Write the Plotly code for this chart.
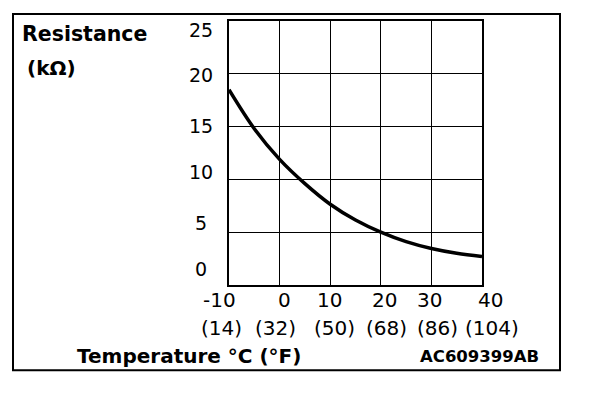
import plotly.graph_objects as go

# ---- data ----
temps_c = [-10, -5, 0, 5, 10, 15, 20, 25, 30, 35, 40]
resistance_kohm = [18.5, 14.8, 11.9, 9.6, 7.65, 6.15, 5.0, 4.1, 3.45, 3.0, 2.7]

x_tickvals = [-10, 0, 10, 20, 30, 40]
x_ticktext_c = ["-10", "0", "10", "20", "30", "40"]
x_ticktext_f = ["(14)", "(32)", "(50)", "(68)", "(86)", "(104)"]
y_tickvals = [0, 5, 10, 15, 20, 25]
y_ticktext = ["0", "5", "10", "15", "20", "25"]

# ---- layout geometry (screen pixels; page body adds an 8px offset) ----
W, H = 608, 398
OFF = 8
SL, SR, ST, SB = 229, 482, 19, 285          # plot area on screen
L, R, T, B = SL - OFF, SR - OFF, ST - OFF, SB - OFF


def px(xs):
    return (xs - SL) / (SR - SL)


def py(ys):
    return (SB - ys) / (SB - ST)


FONT = "DejaVu Sans, Arial, sans-serif"

fig = go.Figure()
fig.add_trace(go.Scatter(
    x=temps_c, y=resistance_kohm, mode="lines",
    line=dict(color="black", width=3.5, shape="spline", smoothing=1.0),
    hoverinfo="skip", showlegend=False,
))

fig.update_layout(
    width=W, height=H,
    margin=dict(l=L, r=W - R, t=T, b=H - B, pad=0),
    paper_bgcolor="white", plot_bgcolor="white",
    showlegend=False,
    xaxis=dict(range=[-10, 40], tickvals=x_tickvals, showticklabels=False,
               showgrid=True, gridcolor="black", gridwidth=1,
               showline=True, linecolor="black", linewidth=2, mirror=True,
               zeroline=False, ticks="", fixedrange=True),
    yaxis=dict(range=[0, 25], tickvals=y_tickvals, showticklabels=False,
               showgrid=True, gridcolor="black", gridwidth=1,
               showline=True, linecolor="black", linewidth=2, mirror=True,
               zeroline=False, ticks="", fixedrange=True),
)

annotations = []
# x tick labels (two rows)
c_shift = [-10, 5, -1, 4, -2, 8]
f_shift = [-8, -4, 4, 6, 6, 10]
for v, tc, tf, sc, sf in zip(x_tickvals, x_ticktext_c, x_ticktext_f, c_shift, f_shift):
    annotations.append(dict(x=v, xref="x", y=py(300), yref="paper", text=tc,
                            showarrow=False, xanchor="center", yanchor="middle",
                            xshift=sc, font=dict(family=FONT, size=20, color="black")))
    annotations.append(dict(x=v, xref="x", y=py(328), yref="paper", text=tf,
                            showarrow=False, xanchor="center", yanchor="middle",
                            xshift=sf, font=dict(family=FONT, size=20, color="black")))
# y tick labels
y_shift = [15.7, 9, 7.5, 1, -1.3, -9]
for v, t, s in zip(y_tickvals, y_ticktext, y_shift):
    annotations.append(dict(x=px(201), xref="paper", y=v, yref="y", text=t,
                            showarrow=False, xanchor="center", yanchor="middle",
                            yshift=s, font=dict(family=FONT, size=19, color="black")))

annotations += [
    dict(x=px(20), xref="paper", y=py(32), yref="paper", text="<b>Resistance</b>",
         showarrow=False, xanchor="left", yanchor="middle",
         font=dict(family=FONT, size=20.5, color="black")),
    dict(x=px(25), xref="paper", y=py(66), yref="paper", text="<b>(kΩ)</b>",
         showarrow=False, xanchor="left", yanchor="middle",
         font=dict(family=FONT, size=20, color="black")),
    dict(x=px(75), xref="paper", y=py(357), yref="paper", text="<b>Temperature °C (°F)</b>",
         showarrow=False, xanchor="left", yanchor="middle",
         font=dict(family=FONT, size=20, color="black")),
    dict(x=px(541), xref="paper", y=py(357), yref="paper", text="<b>AC609399AB</b>",
         showarrow=False, xanchor="right", yanchor="middle",
         font=dict(family=FONT, size=16.5, color="black")),
]
fig.update_layout(annotations=annotations)

# outer border
fig.add_shape(type="rect", xref="paper", yref="paper",
              x0=px(13), x1=px(560), y0=py(371), y1=py(12),
              line=dict(color="black", width=2), fillcolor="rgba(0,0,0,0)", layer="below")

fig.write_html("out.html")
